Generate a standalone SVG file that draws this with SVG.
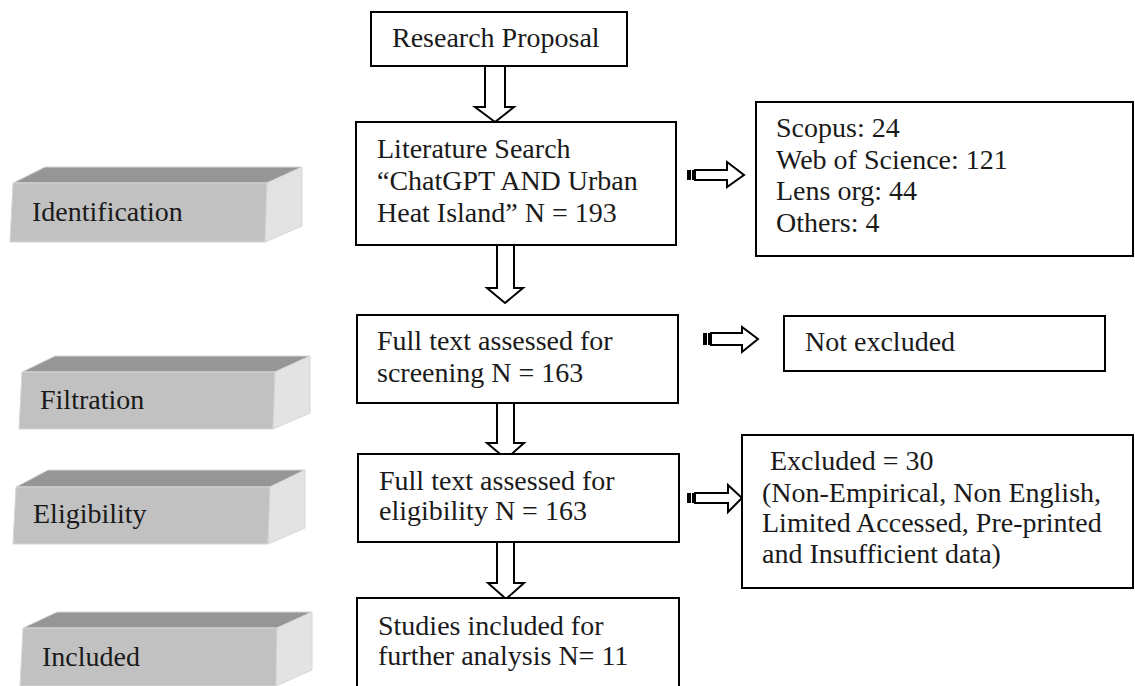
<svg xmlns="http://www.w3.org/2000/svg" width="1135" height="686" viewBox="0 0 1135 686">
<style>
.box{fill:#fff;stroke:#000;stroke-width:2}
.t{font-family:"Liberation Serif","Times New Roman",serif;font-size:28px;fill:#1a1a1a}
.front{fill:#c1c1c1;stroke:#d6d6d6;stroke-width:1}
.top{fill:#969696;stroke:#d6d6d6;stroke-width:1}
.side{fill:#e3e3e3;stroke:#d6d6d6;stroke-width:1}
.arr{fill:#fff;stroke:#000;stroke-width:2;stroke-linejoin:miter}
</style>
<rect width="1135" height="686" fill="#fff"/>

<g id="stage-identification">
<polygon class="top" points="13,183 45,167 302,167 267,183"/>
<polygon class="side" points="267,183 302,167 302,226 265,242"/>
<polygon class="front" points="13,183 267,183 265,242 10,242"/>
<text class="t" x="32" y="221">Identification</text>
</g>
<g id="stage-filtration">
<polygon class="top" points="22,372 55,356 310,356 275,372"/>
<polygon class="side" points="275,372 310,356 310,413 273,429"/>
<polygon class="front" points="22,372 275,372 273,429 19,429"/>
<text class="t" x="40" y="409">Filtration</text>
</g>
<g id="stage-eligibility">
<polygon class="top" points="16,487 48,470 305,470 270,487"/>
<polygon class="side" points="270,487 305,470 305,528 268,544"/>
<polygon class="front" points="16,487 270,487 268,544 13,544"/>
<text class="t" x="33" y="523">Eligibility</text>
</g>
<g id="stage-included">
<polygon class="top" points="23,628 57,612 312,612 277,628"/>
<polygon class="side" points="277,628 312,612 312,670 276,686"/>
<polygon class="front" points="23,628 277,628 276,686 20,686"/>
<text class="t" x="42" y="666">Included</text>
</g>

<g id="connectors">
<polygon class="arr" points="485,66 505,66 505,107 514,107 495,122 475,107 485,107"/>
<polygon class="arr" points="497,245 514,245 514,288 523,288 505,303 487,288 497,288"/>
<polygon class="arr" points="497,403 514,403 514,443 524,443 506,459 487,443 497,443"/>
<polygon class="arr" points="497,542 514,542 514,583 524,583 506,599 488,583 497,583"/>
<g id="arrow-search-sources">
<rect x="687" y="170" width="4" height="10" fill="#000"/>
<rect x="692" y="170" width="2" height="10" fill="#000"/>
<polygon class="arr" points="695,170 727,170 727,162 744,175 727,187 727,180 695,180"/>
</g>
<g id="arrow-screening-notexcluded">
<rect x="703" y="333" width="4" height="12" fill="#000"/>
<rect x="708" y="333" width="2" height="12" fill="#000"/>
<polygon class="arr" points="711,333 742,333 742,327 758,339 742,352 742,345 711,345"/>
</g>
<g id="arrow-eligibility-excluded">
<rect x="687" y="493" width="4" height="10" fill="#000"/>
<rect x="692" y="493" width="2" height="10" fill="#000"/>
<polygon class="arr" points="695,493 728,493 728,485 742,498 728,512 728,503 695,503"/>
</g>
</g>

<g id="research-proposal">
<rect class="box" x="371" y="12" width="256" height="54"/>
<text class="t" x="392" y="47">Research Proposal</text>
</g>
<g id="literature-search">
<rect class="box" x="356" y="122" width="320" height="123"/>
<text class="t" x="377" y="158">Literature Search</text>
<text class="t" x="377" y="190">“ChatGPT AND Urban</text>
<text class="t" x="377" y="222">Heat Island” N = 193</text>
</g>
<g id="sources">
<rect class="box" x="756" y="102" width="377" height="154"/>
<text class="t" x="776" y="137">Scopus: 24</text>
<text class="t" x="776" y="169">Web of Science: 121</text>
<text class="t" x="776" y="200">Lens org: 44</text>
<text class="t" x="776" y="232">Others: 4</text>
</g>
<g id="screening">
<rect class="box" x="357" y="315" width="321" height="88"/>
<text class="t" x="377" y="350">Full text assessed for</text>
<text class="t" x="377" y="382">screening N = 163</text>
</g>
<g id="not-excluded">
<rect class="box" x="784" y="316" width="321" height="55"/>
<text class="t" x="805" y="351">Not excluded</text>
</g>
<g id="eligibility">
<rect class="box" x="358" y="454" width="321" height="88"/>
<text class="t" x="379" y="490">Full text assessed for</text>
<text class="t" x="379" y="520">eligibility N = 163</text>
</g>
<g id="excluded">
<rect class="box" x="742" y="435" width="391" height="153"/>
<text class="t" x="770" y="470">Excluded = 30</text>
<text class="t" x="762" y="502">(Non-Empirical, Non English,</text>
<text class="t" x="762" y="532">Limited Accessed, Pre-printed</text>
<text class="t" x="762" y="563">and Insufficient data)</text>
</g>
<g id="included-studies">
<path d="M357,690 V598 H679 V690" fill="#fff" stroke="#000" stroke-width="2"/>
<text class="t" x="378" y="635">Studies included for</text>
<text class="t" x="378" y="665">further analysis N= 11</text>
</g>
</svg>
